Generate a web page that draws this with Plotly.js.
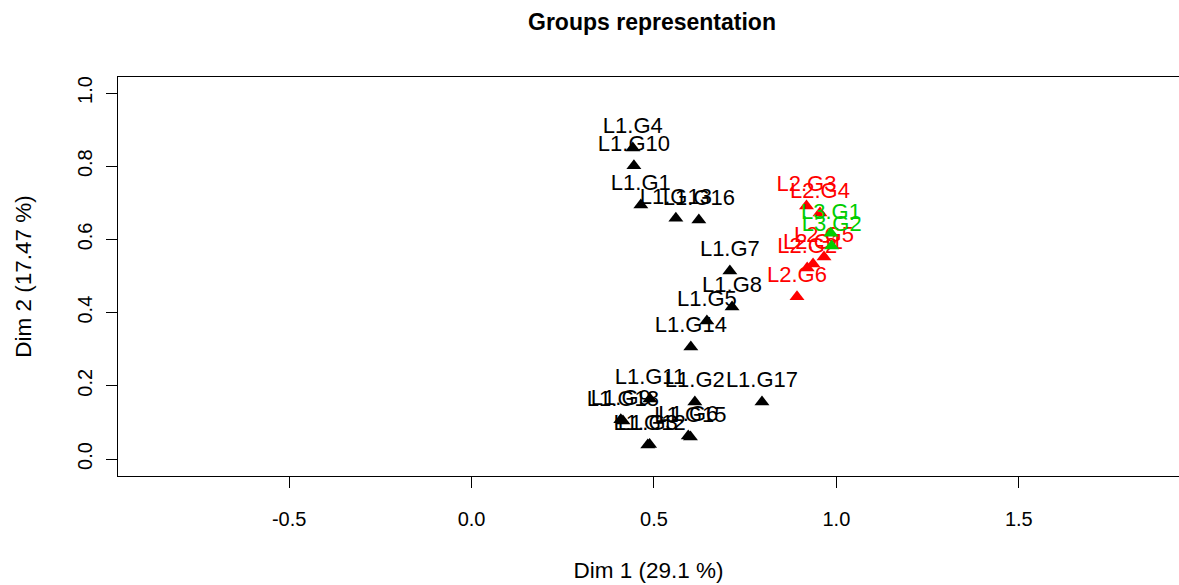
<!DOCTYPE html>
<html>
<head>
<meta charset="utf-8">
<script src="https://cdn.plot.ly/plotly-3.0.1.min.js"></script>
<style>html,body{margin:0;padding:0;background:#fff;}#chart{width:1179px;height:585px;}</style>
</head>
<body>
<div id="chart"></div>
<script>
// Group labels and coordinates (Dim 1, Dim 2)
const l1Labels = ["L1.G1","L1.G2","L1.G3","L1.G4","L1.G5","L1.G6","L1.G7","L1.G8","L1.G9",
                  "L1.G10","L1.G11","L1.G12","L1.G13","L1.G14","L1.G15","L1.G16","L1.G17","L1.G18"];
const l1Dim1 = [0.464,0.612,0.483,0.442,0.645,0.594,0.708,0.714,0.409,
                0.445,0.489,0.488,0.560,0.601,0.600,0.623,0.796,0.415];
const l1Dim2 = [0.694,0.156,0.038,0.850,0.377,0.063,0.514,0.415,0.107,
                0.801,0.164,0.040,0.658,0.306,0.060,0.653,0.156,0.104];

const l2Labels = ["L2.G1","L2.G2","L2.G3","L2.G4","L2.G5","L2.G6"];
const l2Dim1 = [0.936,0.920,0.918,0.955,0.966,0.892];
const l2Dim2 = [0.533,0.522,0.691,0.672,0.552,0.443];

const l3Labels = ["L3.G1","L3.G2"];
const l3Dim1 = [0.985,0.987];
const l3Dim2 = [0.617,0.582];

const xTicks = [-0.5,0.0,0.5,1.0,1.5];
const xTickText = ["-0.5","0.0","0.5","1.0","1.5"];
const yTicks = [0.0,0.2,0.4,0.6,0.8,1.0];
const yTickText = ["0.0","0.2","0.4","0.6","0.8","1.0"];

const FONT = "Liberation Sans, Arial, sans-serif";

function grp(x, y, labels, color) {
  return {
    type: "scatter", mode: "markers+text",
    x: x, y: y, text: labels,
    textposition: "top center",
    textfont: {family: FONT, size: 22, color: color},
    marker: {symbol: "triangle-up", size: 13, color: color, line: {width: 0}},
    hoverinfo: "text", showlegend: false, cliponaxis: false
  };
}

const data = [
  grp(l1Dim1, l1Dim2, l1Labels, "#000000"),
  grp(l2Dim1, l2Dim2, l2Labels, "#FF0000"),
  grp(l3Dim1, l3Dim2, l3Labels, "#00CD00")
];

const layout = {
  width: 1179, height: 585,
  margin: {l: 118, r: 0, t: 77, b: 109},
  paper_bgcolor: "#ffffff", plot_bgcolor: "#ffffff",
  font: {family: FONT, size: 21, color: "#000"},
  title: {text: "<b>Groups representation</b>", font: {family: FONT, size: 23, color: "#000"},
          xref: "container", x: 0.553, xanchor: "center", yref: "container", y: 0.962, yanchor: "middle"},
  xaxis: {
    range: [-0.969, 1.939], tickvals: xTicks, ticktext: xTickText,
    showgrid: false, zeroline: false, showline: true, mirror: true, linecolor: "#000", linewidth: 1,
    ticks: "outside", ticklen: 11, tickcolor: "#000", tickwidth: 1,
    tickfont: {family: FONT, size: 20, color: "#000"}, ticklabelstandoff: 14,
    title: {text: "Dim 1 (29.1 %)", font: {family: FONT, size: 22.5, color: "#000"}, standoff: 33}
  },
  yaxis: {
    range: [-0.0464, 1.0437], tickvals: yTicks, ticktext: yTickText,
    showgrid: false, zeroline: false, showline: true, mirror: false, linecolor: "#000", linewidth: 1,
    ticks: "outside", ticklen: 11, tickcolor: "#000", tickwidth: 1, tickangle: -90,
    tickfont: {family: FONT, size: 20, color: "#000"}, ticklabelstandoff: 6,
    title: {text: "Dim 2 (17.47 %)", font: {family: FONT, size: 22.5, color: "#000"}, standoff: 36}
  }
};

Plotly.newPlot("chart", data, layout, {staticPlot: true, displayModeBar: false});
</script>
</body>
</html>
